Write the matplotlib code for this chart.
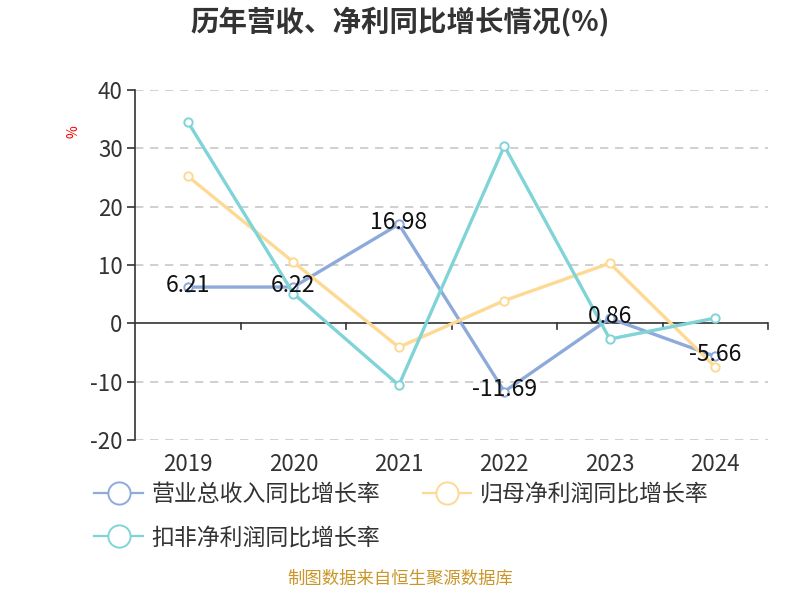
import matplotlib
matplotlib.use("Agg")

import matplotlib.pyplot as plt
from matplotlib.lines import Line2D

plt.rcParams["font.family"] = ["Noto Sans CJK SC", "DejaVu Sans"]

# -----------------------------
# Datos
# -----------------------------

years = ["2019", "2020", "2021", "2022", "2023", "2024"]
revenue_growth = [6.21, 6.22, 16.98, -11.69, 0.86, -5.66]
parent_profit_growth = [25.2, 10.5, -4.1, 3.9, 10.3, -7.5]
deducted_profit_growth = [34.5, 5.1, -10.6, 30.4, -2.7, 0.9]

series_names = ["营业总收入同比增长率", "归母净利润同比增长率", "扣非净利润同比增长率"]
colors = ["#8DAADB", "#FED993", "#80D4D8"]
y_ticks = [-20, -10, 0, 10, 20, 30, 40]

# -----------------------------
# Figura
# -----------------------------

fig = plt.figure(figsize=(8, 6), dpi=100)
ax = fig.add_axes([0.169, 0.2667, 0.791, 0.5833])

x = list(range(len(years)))
all_series = [revenue_growth, parent_profit_growth, deducted_profit_growth]

handles = []
for values, color, name in zip(all_series, colors, series_names):
    ax.plot(x, values, color=color, linewidth=2.4, marker="o",
            markersize=6, markerfacecolor="white", markeredgecolor=color,
            markeredgewidth=1.4, zorder=3)
    handles.append(Line2D([0], [0], color=color, linewidth=1.6, marker="o",
                          markersize=16, markerfacecolor="white",
                          markeredgecolor=color, markeredgewidth=1.4,
                          label=name))

for xi, v in zip(x, revenue_growth):
    ax.text(xi, v + 0.3, f"{v:.2f}", ha="center", va="center",
            fontsize=16.5, color="#111111", zorder=5)

ax.set_xlim(-0.5, len(years) - 0.5)
ax.set_ylim(-20, 40)
ax.set_yticks(y_ticks)
ax.set_yticklabels([str(t) for t in y_ticks], fontsize=16, color="#333333")

for t in y_ticks:
    if t != 0:
        ax.axhline(t, color="#C8C8C8", linewidth=1.2, linestyle=(0, (5, 4)),
                   zorder=1)

for side in ["top", "right", "bottom"]:
    ax.spines[side].set_visible(False)
ax.spines["left"].set_color("#333333")
ax.spines["left"].set_linewidth(1.2)
ax.tick_params(axis="y", direction="out", length=6, width=1.2,
               color="#333333", pad=3)

ax.axhline(0, color="#333333", linewidth=1.2, zorder=2)
ax.set_xticks([])
for b in range(1, len(years) + 1):
    ax.plot([b - 0.5, b - 0.5], [0, -1.0], color="#333333", linewidth=1.2,
            clip_on=False, zorder=2)

for xi, year in zip(x, years):
    ax.text(xi, -22.2, year, ha="center", va="top", fontsize=16,
            color="#333333")

fig.text(0.092, 0.78, "%", rotation=90, color="red", fontsize=10,
         ha="center", va="center")

fig.text(0.5, 0.962, "历年营收、净利同比增长情况(%)", ha="center",
         va="center", fontsize=20.5, fontweight="bold", color="#333333")

leg = fig.legend(handles=[handles[0], handles[2], handles[1]], ncol=2,
                 loc="upper left", bbox_to_anchor=(0.098, 0.222),
                 frameon=False, fontsize=16.5, handlelength=2.1,
                 columnspacing=1.85, labelspacing=0.9, handletextpad=0.4,
                 borderpad=0.2)
for text in leg.get_texts():
    text.set_color("#333333")

fig.text(0.5, 0.02, "制图数据来自恒生聚源数据库", ha="center", va="bottom",
         fontsize=12.5, color="#C9962A")

fig.savefig("out.png", dpi=100)
plt.close("all")
